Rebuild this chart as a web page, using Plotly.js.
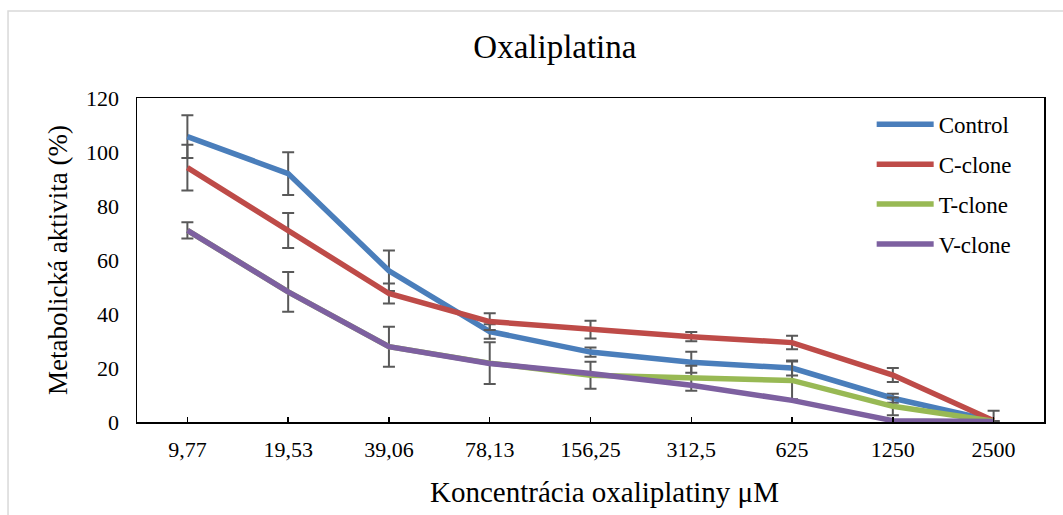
<!DOCTYPE html>
<html>
<head>
<meta charset="utf-8">
<script src="https://cdn.plot.ly/plotly-3.0.1.min.js"></script>
<style>html,body{margin:0;padding:0;background:#fff;}#chart{width:1063px;height:515px;}</style>
</head>
<body>
<div id="chart"></div>
<script>
var categories = ["9,77", "19,53", "39,06", "78,13", "156,25", "312,5", "625", "1250", "2500"];
var controlValues = [105.7, 92.0, 56.0, 33.5, 25.9, 22.1, 20.0, 8.8, 0.4];
var controlErrors = [7.9, 7.9, 7.5, 2.7, 1.7, 3.9, 2.8, 1.7, 0];
var cCloneValues = [94.2, 70.9, 47.6, 37.2, 34.2, 31.6, 29.4, 17.4, 0.5];
var cCloneErrors = [8.5, 6.5, 3.7, 3.1, 3.3, 1.7, 2.5, 2.6, 3.7];
var tCloneValues = [71.0, 48.2, 27.9, 21.8, 17.3, 16.2, 15.4, 5.8, 0.3];
var tCloneErrors = [3.0, 7.4, 7.4, 7.7, 5.0, 4.6, 7.0, 3.3, 0];
var vCloneValues = [71.0, 48.2, 27.9, 21.7, 18.0, 13.6, 8.0, 0.5, 0.2];
var seriesNames = ["Control", "C-clone", "T-clone", "V-clone"];
var seriesColors = ["#4A7EBB", "#BE4B48", "#98B954", "#7D60A0"];
var xTitle = "Koncentrácia oxaliplatiny μM";

var font = "Liberation Serif, Times New Roman, serif";
var errStyle = function (arr) {
  return {type: "data", array: arr, visible: true, color: "#595959", thickness: 2, width: 6};
};
var vals = [controlValues, cCloneValues, tCloneValues, vCloneValues];
var errs = [controlErrors, cCloneErrors, tCloneErrors, null];
var traces = vals.map(function (v, i) {
  var t = {
    type: "scatter", mode: "lines", x: categories, y: v, name: seriesNames[i],
    legendgroup: "g" + i,
    line: {color: seriesColors[i], width: 5.5}
  };
  if (errs[i]) t.error_y = errStyle(errs[i]);
  return t;
});

var layout = {
  width: 1063, height: 515,
  margin: {l: 137, r: 19, t: 98, b: 93},
  paper_bgcolor: "#ffffff", plot_bgcolor: "#ffffff",
  font: {family: font, color: "#000000", size: 22},
  title: {text: "Oxaliplatina", font: {family: font, size: 33, color: "#000"}, x: 0.522, xanchor: "center", y: 0.91, yanchor: "middle"},
  showlegend: true,
  legend: {x: 0.81, y: 0.985, xanchor: "left", yanchor: "top", font: {family: font, size: 23}, tracegroupgap: 7, itemwidth: 57, bgcolor: "rgba(0,0,0,0)"},
  xaxis: {
    type: "category", range: [-0.5, 8.5],
    showline: true, linecolor: "#000", linewidth: 1.5, mirror: true,
    ticks: "inside", ticklen: 5, tickwidth: 1.5, tickcolor: "#000",
    showgrid: false, zeroline: false,
    tickfont: {family: font, size: 22}, ticklabelstandoff: 7
  },
  yaxis: {
    range: [0, 120], dtick: 20,
    showline: true, linecolor: "#000", linewidth: 1.5, mirror: true,
    ticks: "", showgrid: false, zeroline: false,
    tickfont: {family: font, size: 22}, ticklabelstandoff: 12,
    title: {text: "Metabolická aktivita (%)", font: {family: font, size: 27}, standoff: 10}
  },
  annotations: [{
    text: xTitle, xref: "paper", yref: "paper", x: 0.515, y: -0.215,
    xanchor: "center", yanchor: "middle", showarrow: false,
    font: {family: font, size: 29, color: "#000"}
  }],
  shapes: [{
    type: "rect", xref: "paper", yref: "paper",
    x0: -0.1422, x1: 1.2, y0: -0.5, y1: 1.2685,
    line: {color: "#D9D9D9", width: 1.5}, fillcolor: "rgba(0,0,0,0)", layer: "below"
  }]
};

Plotly.newPlot("chart", traces, layout, {displayModeBar: false, staticPlot: true});
</script>
</body>
</html>
